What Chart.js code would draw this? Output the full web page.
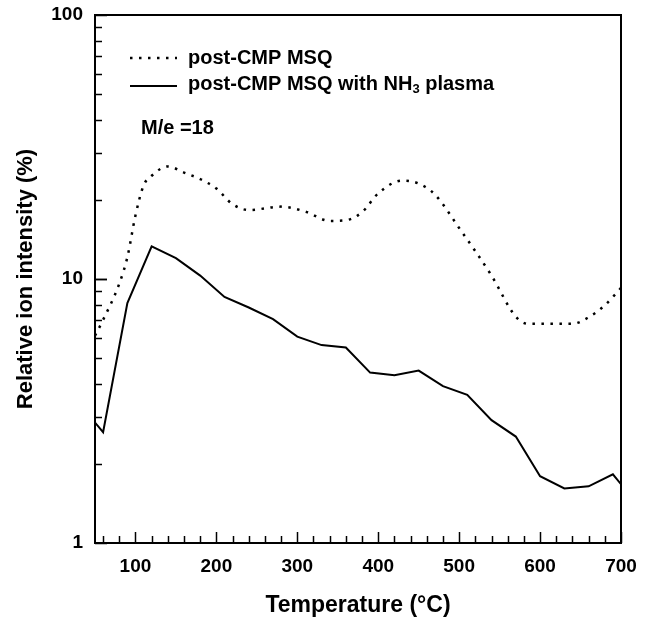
<!DOCTYPE html>
<html>
<head>
<meta charset="utf-8">
<script src="https://cdn.jsdelivr.net/npm/chart.js@4"></script>
<style>
  html, body { margin: 0; padding: 0; background: #fff; }
  #wrap { width: 651px; height: 623px; }
</style>
</head>
<body>
<div id="wrap"><canvas id="myChart" width="651" height="623"></canvas></div>
<script>
// values (temperature in degC, relative ion intensity in %)
var plainTemps = [50, 60, 80, 90, 100, 110, 120, 140, 160, 180, 200, 220, 240, 280, 310, 340, 360, 380, 400, 430, 450, 470, 500, 540, 570, 585, 640, 660, 680, 700];
var plainMSQ   = [6.1, 7.0, 9.6, 12.1, 17.4, 22.6, 24.6, 26.7, 25.3, 23.9, 22.0, 19.2, 18.25, 18.8, 18.0, 16.6, 16.7, 17.9, 21.1, 23.6, 23.0, 20.9, 15.6, 10.3, 7.2, 6.77, 6.77, 7.16, 7.95, 9.25];

var plasmaTemps = [50, 60, 90, 120, 150, 180, 210, 240, 270, 300, 330, 360, 390, 420, 450, 480, 510, 540, 570, 600, 630, 660, 690, 700];
var plasmaMSQ   = [2.86, 2.63, 8.1, 13.3, 12.0, 10.3, 8.55, 7.8, 7.05, 6.05, 5.62, 5.5, 4.42, 4.32, 4.5, 3.93, 3.64, 2.92, 2.53, 1.79, 1.61, 1.64, 1.82, 1.67];

var xMajorTicks = [100, 200, 300, 400, 500, 600, 700];
var yMajorTicks = [1, 10, 100];

var seriesNames = ['post-CMP MSQ', 'post-CMP MSQ with NH3 plasma'];
var annotationText = 'M/e =18';

const FONT = '"Liberation Sans", Arial, Helvetica, sans-serif';

const toPoints = (xs, ys) => xs.map((x, i) => ({ x: x, y: ys[i] }));

// draws text, turning the digit after "NH" into a subscript
const drawRich = (ctx, text, x, y, size) => {
  const parts = text.split(/(NH)(\d)/);
  let cx = x;
  let subNext = false;
  parts.forEach(p => {
    if (p === '') return;
    if (subNext) {
      ctx.font = 'bold ' + Math.round(size * 0.65) + 'px ' + FONT;
      ctx.fillText(p, cx, y + size * 0.28);
      cx += ctx.measureText(p).width;
      subNext = false;
      return;
    }
    ctx.font = 'bold ' + size + 'px ' + FONT;
    ctx.fillText(p, cx, y);
    cx += ctx.measureText(p).width;
    if (p === 'NH') subNext = true;
  });
};

const framePlugin = {
  id: 'frameAndTicks',
  afterDraw: chart => {
    const ctx = chart.ctx;
    const area = chart.chartArea;
    const xs = chart.scales.x;
    const ys = chart.scales.y;
    ctx.save();
    ctx.strokeStyle = '#000';
    ctx.fillStyle = '#000';

    // box round the plot
    ctx.lineWidth = 2;
    ctx.strokeRect(area.left, area.top, area.right - area.left, area.bottom - area.top);

    // inward ticks on the bottom axis, every 20 degrees
    ctx.lineWidth = 1.5;
    for (let t = 60; t <= 700; t += 20) {
      const px = Math.round(xs.getPixelForValue(t)) + 0.5;
      const len = t % 100 === 0 ? 11 : 7;
      ctx.beginPath();
      ctx.moveTo(px, area.bottom);
      ctx.lineTo(px, area.bottom - len);
      ctx.stroke();
    }
    // inward ticks on the left axis, 1..9 in each decade
    for (let d = 1; d <= 10; d *= 10) {
      for (let m = 1; m <= 10; m++) {
        const v = m * d;
        if (v > 100) continue;
        const py = Math.round(ys.getPixelForValue(v)) + 0.5;
        const len = (m === 1 || m === 10) ? 12 : 7;
        ctx.beginPath();
        ctx.moveTo(area.left, py);
        ctx.lineTo(area.left + len, py);
        ctx.stroke();
      }
    }

    // legend
    ctx.textBaseline = 'middle';
    chart.data.datasets.forEach((ds, i) => {
      const ly = 58 + i * 26;
      ctx.lineWidth = ds.borderWidth;
      ctx.setLineDash(ds.borderDash || []);
      ctx.beginPath();
      ctx.moveTo(130, ly + (i === 1 ? 2 : 0));
      ctx.lineTo(177, ly + (i === 1 ? 2 : 0));
      ctx.stroke();
      ctx.setLineDash([]);
      drawRich(ctx, ds.label, 188, ly, 20);
    });

    ctx.font = 'bold 20px ' + FONT;
    ctx.fillText(annotationText, 141, 128);
    ctx.restore();
  }
};

var ctx = document.getElementById('myChart').getContext('2d');
var chart = new Chart(ctx, {
  type: 'line',
  data: {
    datasets: [
      {
        label: seriesNames[0],
        data: toPoints(plainTemps, plainMSQ),
        borderColor: '#000',
        borderWidth: 2.5,
        borderDash: [2.5, 6.5],
        cubicInterpolationMode: 'monotone',
        pointRadius: 0,
        fill: false
      },
      {
        label: seriesNames[1],
        data: toPoints(plasmaTemps, plasmaMSQ),
        borderColor: '#000',
        borderWidth: 2,
        tension: 0,
        pointRadius: 0,
        fill: false
      }
    ]
  },
  options: {
    responsive: false,
    animation: false,
    layout: { padding: { top: 15, right: 30, left: 0, bottom: 0 } },
    plugins: {
      legend: { display: false },
      tooltip: { enabled: false }
    },
    scales: {
      x: {
        type: 'linear',
        min: 50,
        max: 700,
        afterBuildTicks: scale => { scale.ticks = xMajorTicks.map(v => ({ value: v })); },
        afterFit: scale => {
          scale.height = 80;
          scale.paddingLeft = 0;
          scale.paddingRight = 0;
        },
        grid: { display: false, drawTicks: false },
        border: { display: false },
        ticks: {
          color: '#000',
          padding: 12,
          maxRotation: 0,
          font: { family: FONT, size: 19, weight: 'bold' }
        },
        title: {
          display: true,
          text: 'Temperature (°C)',
          color: '#000',
          padding: { top: 0, bottom: 4 },
          font: { family: FONT, size: 23, weight: 'bold' }
        }
      },
      y: {
        type: 'logarithmic',
        min: 1,
        max: 100,
        afterBuildTicks: scale => { scale.ticks = yMajorTicks.map(v => ({ value: v })); },
        afterFit: scale => {
          scale.width = 95;
          scale.paddingTop = 0;
          scale.paddingBottom = 0;
        },
        grid: { display: false, drawTicks: false },
        border: { display: false },
        ticks: {
          color: '#000',
          padding: 12,
          font: { family: FONT, size: 19, weight: 'bold' },
          callback: v => String(v)
        },
        title: {
          display: true,
          text: 'Relative ion intensity (%)',
          color: '#000',
          padding: { top: 13, bottom: 0 },
          font: { family: FONT, size: 22, weight: 'bold' }
        }
      }
    }
  },
  plugins: [framePlugin]
});
</script>
</body>
</html>
